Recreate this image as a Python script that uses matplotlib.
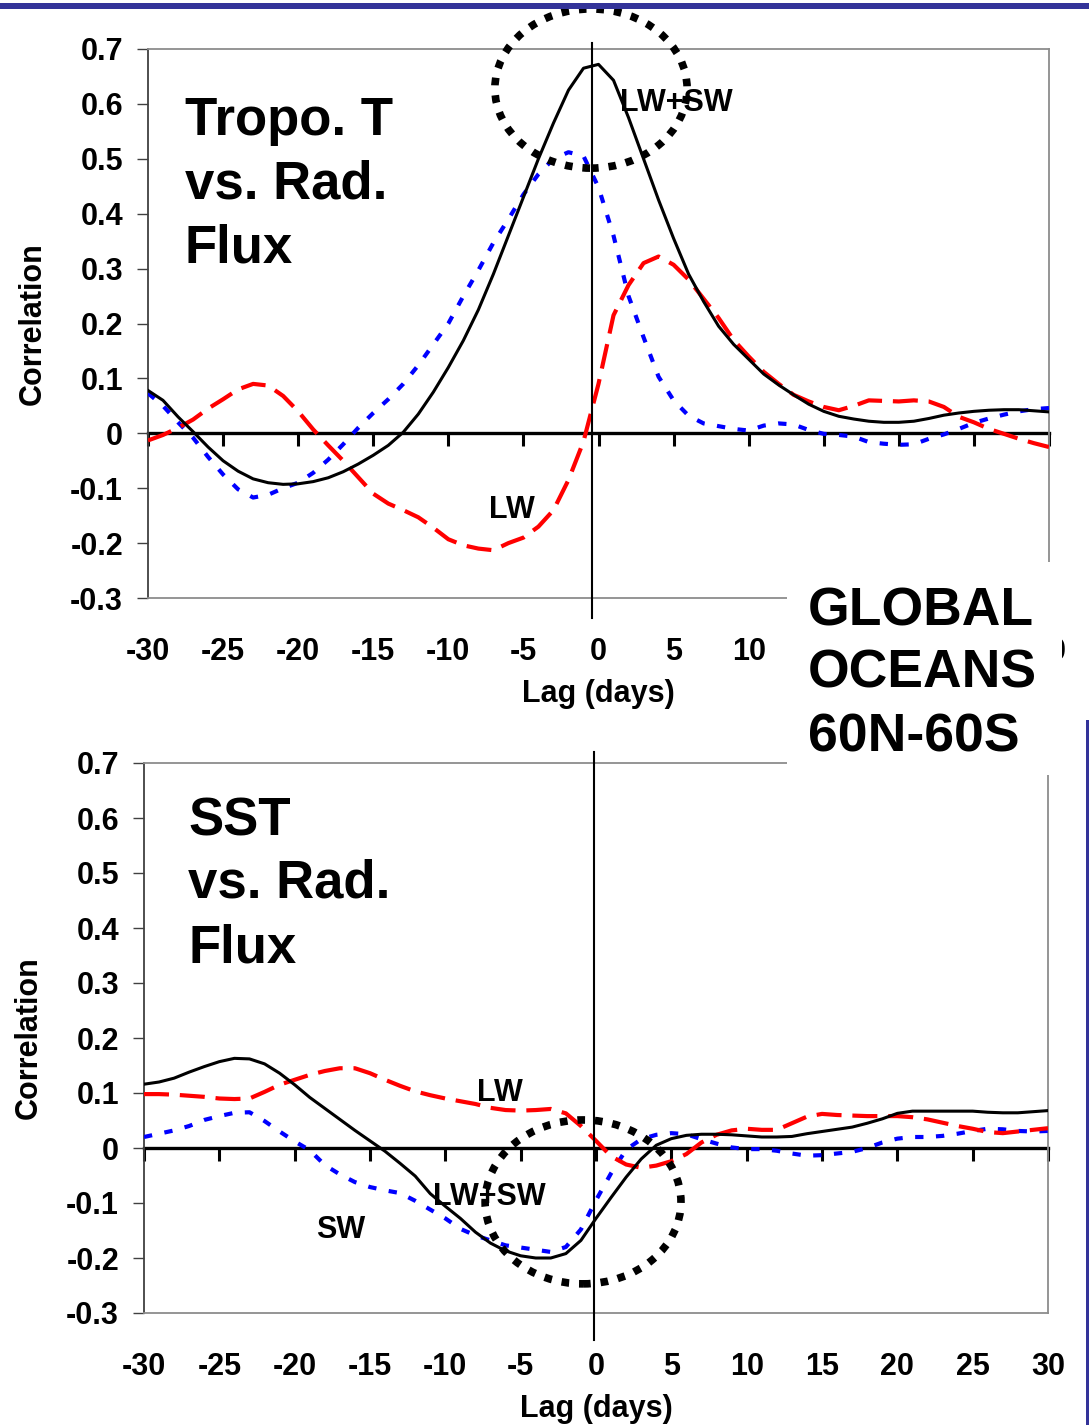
import matplotlib
matplotlib.use("Agg")
import matplotlib.pyplot as plt
from matplotlib.patches import Ellipse, Rectangle

plt.rcParams['font.family'] = ['Liberation Sans', 'DejaVu Sans']
plt.rcParams['font.weight'] = 'bold'
plt.rcParams['axes.labelweight'] = 'bold'

# lag axis (days)
lags = list(range(-30, 31))

# upper panel: tropospheric temperature vs radiative flux
tropo_total = [0.078, 0.06, 0.03, 0.003, -0.025, -0.05, -0.069, -0.083, -0.09, -0.093,
               -0.092, -0.088, -0.081, -0.07, -0.056, -0.04, -0.022, 0.002, 0.035, 0.075,
               0.12, 0.169, 0.225, 0.29, 0.36, 0.43, 0.5, 0.565, 0.625, 0.665,
               0.672, 0.643, 0.575, 0.5, 0.425, 0.355, 0.29, 0.24, 0.195, 0.162,
               0.135, 0.108, 0.088, 0.07, 0.053, 0.04, 0.031, 0.026, 0.022, 0.02,
               0.02, 0.022, 0.027, 0.033, 0.037, 0.04, 0.042, 0.043, 0.043, 0.041, 0.039]
tropo_sw = [0.073, 0.05, 0.02, -0.008, -0.043, -0.075, -0.102, -0.117, -0.112, -0.1,
            -0.09, -0.072, -0.048, -0.02, 0.01, 0.037, 0.062, 0.09, 0.124, 0.162,
            0.2, 0.25, 0.297, 0.347, 0.39, 0.435, 0.472, 0.5, 0.512, 0.505,
            0.448, 0.36, 0.25, 0.175, 0.103, 0.06, 0.032, 0.018, 0.013, 0.008,
            0.005, 0.014, 0.018, 0.016, 0.006, -0.001, -0.003, -0.006, -0.016, -0.019,
            -0.021, -0.02, -0.01, -0.002, 0.008, 0.019, 0.027, 0.034, 0.04, 0.044, 0.046]
tropo_lw = [-0.013, -0.003, 0.01, 0.025, 0.045, 0.062, 0.08, 0.09, 0.087, 0.068,
            0.04, 0.007, -0.022, -0.05, -0.08, -0.11, -0.128, -0.14, -0.153, -0.172,
            -0.193, -0.204, -0.21, -0.213, -0.2, -0.19, -0.17, -0.14, -0.085, -0.015,
            0.09, 0.215, 0.27, 0.31, 0.322, 0.307, 0.28, 0.245, 0.21, 0.17,
            0.14, 0.112, 0.09, 0.07, 0.058, 0.048, 0.042, 0.05, 0.06, 0.059,
            0.058, 0.06, 0.058, 0.048, 0.03, 0.02, 0.008, -0.001, -0.01, -0.018, -0.025]

# lower panel: SST vs radiative flux
sst_total = [0.116, 0.12, 0.127, 0.138, 0.148, 0.157, 0.163, 0.162, 0.153, 0.136,
             0.115, 0.092, 0.072, 0.052, 0.032, 0.013, -0.006, -0.028, -0.051, -0.083,
             -0.106, -0.128, -0.153, -0.173, -0.187, -0.196, -0.2, -0.2, -0.192, -0.168,
             -0.128, -0.09, -0.053, -0.02, 0.005, 0.017, 0.023, 0.025, 0.025, 0.024,
             0.022, 0.02, 0.02, 0.021, 0.026, 0.03, 0.034, 0.038, 0.045, 0.053,
             0.063, 0.067, 0.067, 0.067, 0.067, 0.067, 0.065, 0.064, 0.064, 0.066, 0.068]
sst_sw = [0.02, 0.026, 0.032, 0.04, 0.051, 0.058, 0.064, 0.065, 0.049, 0.03,
          0.012, -0.004, -0.031, -0.048, -0.062, -0.071, -0.077, -0.082, -0.096, -0.112,
          -0.128, -0.147, -0.159, -0.168, -0.177, -0.181, -0.185, -0.189, -0.18, -0.148,
          -0.095, -0.046, -0.003, 0.016, 0.024, 0.027, 0.025, 0.016, 0.008, 0.001,
          -0.002, -0.002, -0.005, -0.01, -0.014, -0.013, -0.01, -0.007, 0.0, 0.01,
          0.017, 0.02, 0.02, 0.022, 0.026, 0.031, 0.035, 0.034, 0.031, 0.03, 0.031]
sst_lw = [0.098, 0.098, 0.097, 0.095, 0.093, 0.09, 0.089, 0.09, 0.102, 0.115,
          0.124, 0.133, 0.14, 0.145, 0.145, 0.136, 0.124, 0.113, 0.103, 0.096,
          0.09, 0.085, 0.08, 0.073, 0.069, 0.068, 0.069, 0.071, 0.063, 0.04,
          0.013, -0.015, -0.03, -0.036, -0.032, -0.024, -0.011, 0.01, 0.024, 0.032,
          0.035, 0.033, 0.033, 0.045, 0.057, 0.062, 0.06, 0.059, 0.058, 0.058,
          0.058, 0.056, 0.052, 0.046, 0.04, 0.035, 0.029, 0.027, 0.03, 0.033, 0.036]

xticks = list(range(-30, 31, 5))
xtick_labels = [str(t) for t in xticks]
# in the upper panel the labels 15..25 sit under the "GLOBAL OCEANS" box
xtick_labels_top = [s if s not in ('15', '20', '25') else '' for s in xtick_labels]
yticks = [0.7, 0.6, 0.5, 0.4, 0.3, 0.2, 0.1, 0, -0.1, -0.2, -0.3]
ytick_labels = ['0.7', '0.6', '0.5', '0.4', '0.3', '0.2', '0.1', '0', '-0.1', '-0.2', '-0.3']

fig = plt.figure(figsize=(10.89, 14.25), dpi=100)
W, H = 1089.0, 1425.0


def make_panel(rect, total, sw, lw, xlabels, vline_x, vline_span, title_lines, title_pos):
    ax = fig.add_axes(rect)
    ax.set_xlim(-30, 30)
    ax.set_ylim(-0.3, 0.7)
    ax.set_xticks(xticks)
    ax.set_xticklabels(xlabels)
    ax.set_yticks(yticks)
    ax.set_yticklabels(ytick_labels)
    ax.tick_params(axis='x', length=0, pad=28, labelsize=22)
    ax.tick_params(axis='y', direction='out', length=8, width=1, color='#404040',
                   pad=10, labelsize=22)
    for side in ['top', 'right', 'bottom']:
        ax.spines[side].set_color('#8c8c8c')
        ax.spines[side].set_linewidth(1.3)
    ax.spines['left'].set_color('#404040')
    ax.spines['left'].set_linewidth(1.3)

    # zero line with its own downward ticks
    zero = ax.secondary_xaxis(0.3)
    zero.set_xticks(xticks)
    zero.tick_params(axis='x', direction='out', length=9, width=2.2, color='black',
                     labelbottom=False, labeltop=False)
    zero.spines['bottom'].set_linewidth(2.4)
    zero.spines['bottom'].set_color('black')

    ax.plot(lags, sw, color='#0000ff', lw=3, linestyle=(0, (2, 3)), zorder=3)
    ax.plot(lags, lw, color='#ff0000', lw=3, linestyle=(0, (6, 2.6)), zorder=3)
    ax.plot(lags, total, color='black', lw=2.2, zorder=4)

    ax.axvline(vline_x, ymin=vline_span[0], ymax=vline_span[1], color='black',
               lw=1.5, clip_on=False, zorder=4)

    ax.set_xlabel('Lag (days)', fontsize=22, fontweight='bold', labelpad=9)
    ax.text(-0.128, 0.5, 'Correlation', transform=ax.transAxes, rotation=90,
            ha='center', va='center', fontsize=22)

    x0, ys = title_pos
    for line, y in zip(title_lines, ys):
        ax.text(x0, y, line, transform=ax.transAxes, fontsize=38,
                ha='left', va='baseline')
    return ax


ax1 = make_panel([148 / W, 1 - 598 / H, 901 / W, 549 / H],
                 tropo_total, tropo_sw, tropo_lw, xtick_labels_top,
                 -0.4, (-0.036, 1.011),
                 ['Tropo. T', 'vs. Rad.', 'Flux'], (0.041, [0.843, 0.727, 0.612]))
ax1.text(1.4, 0.601, 'LW+SW', fontsize=22, ha='left', va='center', zorder=6)
ax1.text(-5.8, -0.14, 'LW', fontsize=22, ha='center', va='center', zorder=6)
ax1.add_patch(Ellipse((-0.5, 0.628), 12.8, 0.29, fill=False, edgecolor='black',
                      lw=5.5, linestyle=(0, (1, 1.3)), clip_on=False, zorder=5))

ax2 = make_panel([144 / W, 1 - 1313 / H, 904 / W, 550 / H],
                 sst_total, sst_sw, sst_lw, xtick_labels,
                 -0.13, (-0.049, 1.02),
                 ['SST', 'vs. Rad.', 'Flux'], (0.049, [0.869, 0.755, 0.638]))
ax2.text(-6.36, 0.1, 'LW', fontsize=22, ha='center', va='center', zorder=6)
ax2.text(-7.1, -0.089, 'LW+SW', fontsize=22, ha='center', va='center', zorder=6)
ax2.text(-16.95, -0.149, 'SW', fontsize=22, ha='center', va='center', zorder=6)
ax2.add_patch(Ellipse((-0.86, -0.098), 13.0, 0.298, fill=False, edgecolor='black',
                      lw=5.5, linestyle=(0, (1, 1.3)), clip_on=False, zorder=5))

# white label box overlapping both panels
fig.add_artist(Rectangle((787 / W, 1 - 775 / H), (1062 - 787) / W, (775 - 562) / H,
                         transform=fig.transFigure, facecolor='white',
                         edgecolor='none', zorder=10))
for line, yb in zip(['GLOBAL', 'OCEANS', '60N-60S'], [625, 688, 752]):
    fig.text(808 / W, 1 - yb / H, line, fontsize=38.5, ha='left', va='baseline', zorder=11)

# slide decorations
fig.add_artist(Rectangle((0, 1 - 9 / H), 1, 6 / H, transform=fig.transFigure,
                         facecolor='#333399', edgecolor='none', zorder=10))
fig.add_artist(Rectangle((1086 / W, 0), 3 / W, 1 - 720 / H, transform=fig.transFigure,
                         facecolor='#333399', edgecolor='none', zorder=10))

fig.savefig('out.png', dpi=100)
